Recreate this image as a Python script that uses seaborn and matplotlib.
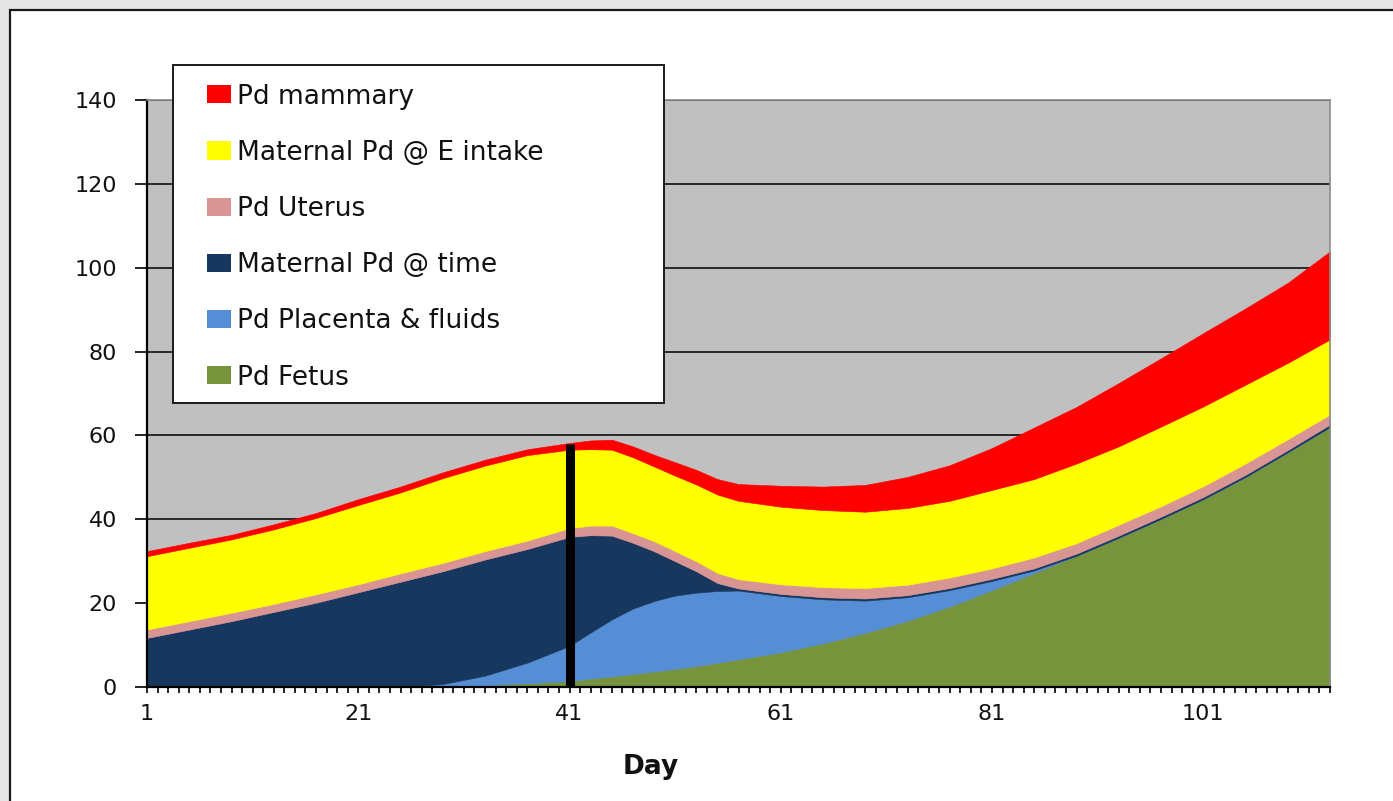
import matplotlib
matplotlib.use("Agg")
import matplotlib.pyplot as plt
import seaborn as sns
import numpy as np
from matplotlib.patches import Rectangle, Patch

# ---------------- data ----------------
days = [1, 5, 9, 13, 17, 21, 25, 29, 33, 37, 41, 43, 45, 47, 49, 51, 53, 55, 57,
        61, 65, 69, 73, 77, 81, 85, 89, 93, 97, 101, 105, 109, 113]

pd_fetus = [0, 0, 0, 0, 0, 0, 0, 0.1, 0.4, 0.9, 1.4, 2.0, 2.5, 3.1, 3.7, 4.3, 5.0, 5.8, 6.6,
            8.3, 10.4, 12.9, 15.8, 19.2, 23.1, 27.2, 31.3, 35.6, 40.1, 44.8, 50.1, 56.0, 62.0]
pd_placenta = [0, 0, 0, 0, 0, 0, 0, 0.6, 2.3, 4.9, 8.4, 11.0, 13.6, 15.6, 16.8, 17.5, 17.5, 17.1, 16.4,
               13.4, 10.5, 7.7, 5.6, 3.9, 2.2, 0.6, 0, 0, 0, 0, 0, 0, 0]
maternal_time = [11.7, 13.7, 15.7, 17.9, 20.1, 22.6, 25.1, 26.9, 27.7, 27.1, 26.0, 23.2, 20.0, 15.7,
                 11.9, 8.2, 5.1, 1.9, 0.5,
                 0.5, 0.5, 0.5, 0.5, 0.5, 0.5, 0.5, 0.5, 0.5, 0.5, 0.5, 0.5, 0.5, 0.6]
pd_uterus = [2.0, 2.0, 2.0, 1.9, 2.0, 1.9, 2.0, 2.0, 2.0, 2.0, 2.1, 2.3, 2.4, 2.3, 2.4, 2.4, 2.4, 2.4, 2.2,
             2.3, 2.4, 2.5, 2.5, 2.5, 2.5, 2.6, 2.5, 2.6, 2.5, 2.6, 2.7, 2.6, 2.4]
maternal_e_intake = [17.5, 17.5, 17.5, 17.8, 18.2, 18.9, 19.3, 20.2, 20.4, 20.4, 18.7, 18.2, 18.1, 18.1,
                     17.8, 18.0, 18.3, 18.7, 18.7,
                     18.5, 18.4, 18.2, 18.3, 18.3, 18.7, 18.7, 19.0, 18.7, 19.0, 19.0, 18.8, 18.2, 17.9]
pd_mammary = [1.2, 1.2, 1.1, 1.2, 1.2, 1.4, 1.4, 1.4, 1.4, 1.4, 1.6, 2.1, 2.4, 2.6, 2.8, 3.2, 3.5, 3.7, 4.0,
              5.0, 5.6, 6.4, 7.4, 8.5, 10.0, 12.3, 13.5, 15.1, 16.3, 17.5, 18.2, 19.1, 21.0]

series_labels = ["Pd Fetus", "Pd Placenta & fluids", "Maternal Pd @ time",
                 "Pd Uterus", "Maternal Pd @ E intake", "Pd mammary"]
series_colors = ["#77933C", "#558ED5", "#17375E", "#D99594", "#FFFF00", "#FF0000"]

x_tick_days = [1, 21, 41, 61, 81, 101]
y_ticks = [0, 20, 40, 60, 80, 100, 120, 140]
marker_day = 41
marker_top = 58.0
x_label = "Day"

# ---------------- style ----------------
sns.set_theme(style="white")
plt.rcParams['font.family'] = ['DejaVu Sans']

W, H = 1393, 801
fig = plt.figure(figsize=(W / 100, H / 100), dpi=100)
fig.patch.set_facecolor("#E6E6E6")

# white chart area with border (top/left)
fig.add_artist(Rectangle((10 / W, -0.05), 1.1, 1 - 10 / H + 0.05, transform=fig.transFigure,
                         facecolor="white", edgecolor="#1A1A1A", linewidth=1.6, zorder=-5))

ax = fig.add_axes([147 / W, 1 - 687 / H, (1330 - 147) / W, (687 - 100) / H])
ax.set_facecolor("#C0C0C0")
ax.set_axisbelow(True)

ax.stackplot(days, pd_fetus, pd_placenta, maternal_time, pd_uterus,
             maternal_e_intake, pd_mammary, colors=series_colors,
             edgecolor="face", linewidth=0.4, zorder=1)

ax.plot([marker_day, marker_day], [0, marker_top], color="black", linewidth=6.5,
        solid_capstyle="butt", zorder=3)

ax.set_xlim(days[0], days[-1])
ax.set_ylim(0, 140)

ax.set_yticks(y_ticks)
ax.set_yticklabels([str(v) for v in y_ticks], fontsize=16, color="#111111")
ax.set_xticks(x_tick_days)
ax.set_xticklabels([str(v) for v in x_tick_days], fontsize=16, color="#111111")
ax.set_xticks(np.arange(days[0], days[-1] + 1, 1), minor=True)
ax.tick_params(axis="y", which="major", direction="out", length=8.5, width=1.2,
               color="black", pad=13, left=True)
ax.tick_params(axis="x", which="both", direction="out", length=4.5, width=1.2,
               color="black", pad=7.5, bottom=True)

ax.yaxis.grid(True, color="black", linewidth=1.1)
ax.xaxis.grid(False)

for s in ["left", "bottom"]:
    ax.spines[s].set_color("black")
    ax.spines[s].set_linewidth(1.6)
for s in ["top", "right"]:
    ax.spines[s].set_color("#8C8C8C")
    ax.spines[s].set_linewidth(1.2)

fig.text(651 / W, 1 - 767 / H, x_label, fontsize=19, fontweight="bold",
         ha="center", va="center", color="#111111")

# legend box
fig.add_artist(Rectangle((173 / W, 1 - 403 / H), (664 - 173) / W, (403 - 65) / H,
                         transform=fig.transFigure, facecolor="white",
                         edgecolor="#1A1A1A", linewidth=1.4, zorder=4))
handles = [Patch(facecolor=c, edgecolor="none") for c in series_colors[::-1]]
leg = fig.legend(handles, series_labels[::-1], loc="upper left",
                 bbox_to_anchor=(207 / W, 1 - 83.5 / H), frameon=False,
                 fontsize=19, borderpad=0, borderaxespad=0,
                 labelspacing=1.145, handlelength=0.91, handleheight=0.68,
                 handletextpad=0.22)
leg.set_zorder(6)
for t in leg.get_texts():
    t.set_color("#111111")

fig.savefig("out.png", dpi=100, facecolor=fig.get_facecolor())
